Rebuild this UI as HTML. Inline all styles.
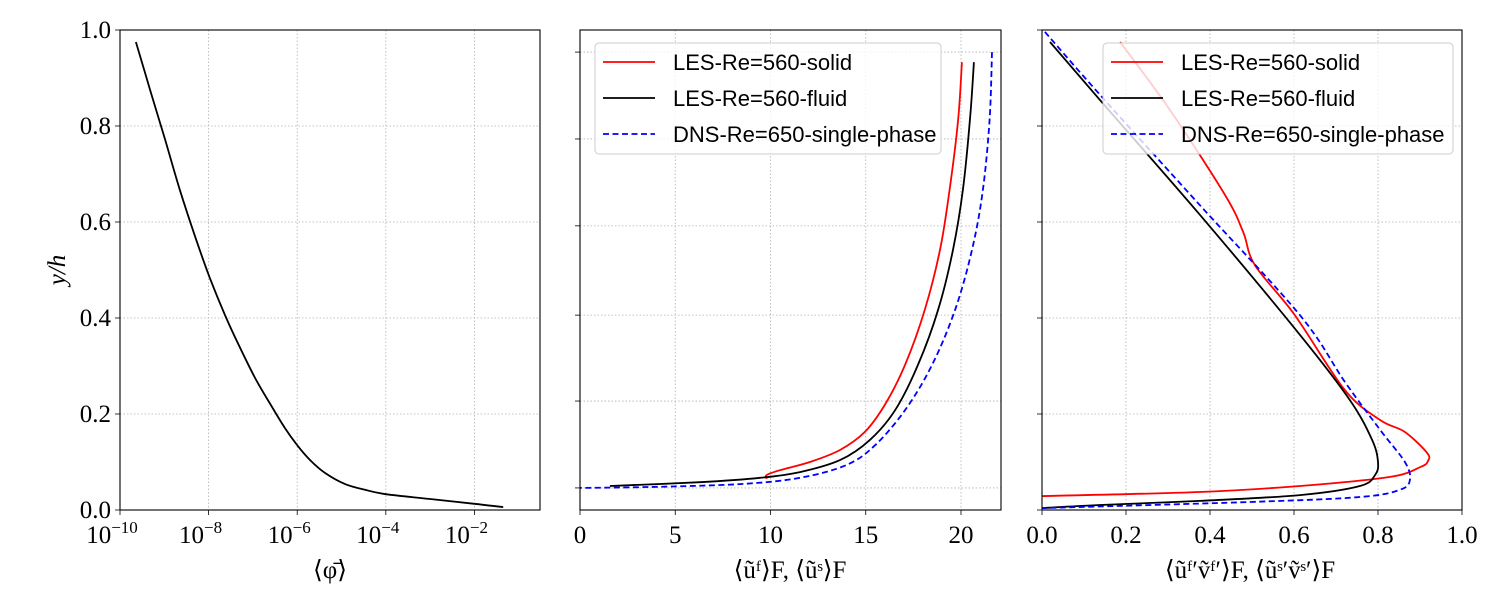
<!DOCTYPE html>
<html><head><meta charset="utf-8"><style>
body{margin:0;background:#fff}
svg{display:block}
text{font-family:"Liberation Serif",serif;fill:#000}
.leg{font-family:"Liberation Sans",sans-serif;font-size:22px}
</style></head><body>
<svg id="c" width="1500" height="600" xmlns="http://www.w3.org/2000/svg"></svg>
<script>
// Panel 1 data: phi (log10 exponent) vs y/h
const phiExp=[-9.64,-9.32,-8.98,-8.65,-8.31,-7.97,-7.63,-7.29,-6.95,-6.61,-6.28,-6.0,-5.71,-5.37,-4.92,-4.47,-4.0,-3.0,-2.0,-1.35];
const phiY=[0.975,0.875,0.771,0.667,0.571,0.483,0.406,0.338,0.275,0.221,0.171,0.135,0.104,0.077,0.054,0.042,0.033,0.023,0.013,0.006];
// Panel 2 data: mean velocity vs y/h
const uSolidX=[20.05,19.85,19.4,18.9,18.1,17.06,16.0,14.96,13.65,12.07,10.5,9.8,9.8];
const uSolidY=[0.933,0.8125,0.667,0.542,0.417,0.302,0.219,0.163,0.125,0.1,0.083,0.073,0.065];
const uFluidX=[20.68,20.47,20.1,19.58,18.8,17.74,16.54,15.22,13.65,11.55,9.45,6.3,1.57];
const uFluidY=[0.933,0.8125,0.667,0.542,0.417,0.302,0.208,0.146,0.104,0.079,0.067,0.058,0.05];
const uDnsX=[21.63,21.5,21.15,20.58,19.69,18.48,17.06,15.49,14.0,11.55,8.4,3.67,0];
const uDnsY=[0.954,0.8125,0.667,0.542,0.417,0.302,0.208,0.135,0.094,0.067,0.054,0.048,0.046];
// Panel 3 data: stress vs y/h
const sSolidX=[0.186,0.305,0.436,0.479,0.507,0.602,0.721,0.805,0.864,0.917,0.919,0.902,0.829,0.614,0.376,0];
const sSolidY=[0.975,0.833,0.656,0.579,0.51,0.406,0.25,0.1875,0.1625,0.119,0.102,0.09,0.069,0.05,0.0375,0.029];
const sFluidX=[0.019,0.138,0.376,0.614,0.733,0.786,0.8,0.793,0.757,0.614,0.376,0.138,0];
const sFluidY=[0.975,0.854,0.615,0.365,0.229,0.146,0.1,0.073,0.05,0.031,0.019,0.0104,0.004];
const sDnsX=[0.007,0.138,0.376,0.614,0.721,0.805,0.864,0.876,0.852,0.757,0.495,0];
const sDnsY=[0.996,0.865,0.635,0.406,0.267,0.167,0.1,0.0625,0.042,0.027,0.0167,0.004];
const yTicks=[0,0.2,0.4,0.6,0.8,1.0];
const yTicks2=[0.046,0.227,0.406,0.592,0.773,0.954];
const x1Ticks=[-10,-8,-6,-4,-2];
const x2Ticks=[0,5,10,15,20];
const x3Ticks=[0,0.2,0.4,0.6,0.8,1.0];

const NS="http://www.w3.org/2000/svg",svg=document.getElementById('c');
function el(t,a,p){const e=document.createElementNS(NS,t);for(const k in a)e.setAttribute(k,a[k]);(p||svg).appendChild(e);return e;}
const T=30,B=510;
const Y=v=>B-v*(B-T);
const panels=[{l:120,r:540,x0:-10,x1:-0.52},{l:580,r:1001,x0:0,x1:22.1},{l:1042,r:1462,x0:0,x1:1}];
const X=(p,v)=>p.l+(v-p.x0)/(p.x1-p.x0)*(p.r-p.l);

function grid(p,xt,yt,g){
  xt.forEach(v=>{const x=X(p,v);
    const gl=el('line',{x1:x,x2:x,y1:T,y2:B,stroke:'#b0b0b0','stroke-width':0.8,'stroke-dasharray':'1.5,2'},g);
    
    el('line',{x1:x,x2:x,y1:B,y2:B+5,stroke:'#000','stroke-width':0.8},g);});
  yt.forEach(v=>{const y=Y(v);
    const gl=el('line',{x1:p.l,x2:p.r,y1:y,y2:y,stroke:'#b0b0b0','stroke-width':0.8,'stroke-dasharray':'1.5,2'},g);
    
    el('line',{x1:p.l-5,x2:p.l,y1:y,y2:y,stroke:'#000','stroke-width':0.8},g);});
}
function smoothPath(pts){
  let d='M'+pts[0][0].toFixed(1)+','+pts[0][1].toFixed(1);
  for(let i=0;i<pts.length-1;i++){
    const p0=pts[Math.max(0,i-1)],p1=pts[i],p2=pts[i+1],p3=pts[Math.min(pts.length-1,i+2)];
    const k=1/6;
    const c1=[p1[0]+(p2[0]-p0[0])*k,p1[1]+(p2[1]-p0[1])*k];
    const c2=[p2[0]-(p3[0]-p1[0])*k,p2[1]-(p3[1]-p1[1])*k];
    d+='C'+c1[0].toFixed(1)+','+c1[1].toFixed(1)+' '+c2[0].toFixed(1)+','+c2[1].toFixed(1)+' '+p2[0].toFixed(1)+','+p2[1].toFixed(1);
  }
  return d;
}
function line(p,xs,ys,col,dash,name,g){
  const pts=xs.map((v,i)=>[X(p,v),Y(ys[i])]);
  const e=el('path',{d:smoothPath(pts),fill:'none',stroke:col,'stroke-width':1.8,'stroke-dasharray':dash||'none','stroke-linejoin':'round'},g);
  
}
function frame(p,g){const f=el('rect',{x:p.l,y:T,width:p.r-p.l,height:B-T,fill:'none',stroke:'#000','stroke-width':1.1},g);
  }
function txt(s,x,y,size,anchor,g,name){const t=el('text',{x:x,y:y,'font-size':size,'text-anchor':anchor||'middle'},g);t.textContent=s;
  return t;}

// panel 1
const g1=el('g',{});
const p1=panels[0];grid(p1,x1Ticks,yTicks,g1);
line(p1,phiExp,phiY,'#000','', 'phi-line',g1);
frame(p1,g1);
yTicks.forEach(v=>txt(v.toFixed(1),p1.l-9,Y(v)+8,25,'end',g1,'y-tick-label'));
x1Ticks.forEach(v=>{const t=txt('10',X(p1,v)-8,B+33,25,'middle',g1,'x-tick-label');
  const s=el('tspan',{dy:-10,'font-size':17},t);s.textContent='\u2212'+(-v);});
txt('\u27E8\u03C6\u0304\u27E9',330,578,25,'middle',g1,'x-axis-title');
const yl=txt('y/h',0,0,25,'middle',g1,'y-axis-title');yl.setAttribute('transform','translate(65,270) rotate(-90)');yl.setAttribute('font-style','italic');

// panel 2
const g2=el('g',{});
const p2=panels[1];grid(p2,x2Ticks,yTicks2,g2);
line(p2,uSolidX,uSolidY,'#f00','','velocity-solid-line',g2);
line(p2,uFluidX,uFluidY,'#000','','velocity-fluid-line',g2);
line(p2,uDnsX,uDnsY,'#00f','6,3.5','velocity-dns-line',g2);
frame(p2,g2);
x2Ticks.forEach(v=>txt(String(v),X(p2,v),B+33,25,'middle',g2,'x-tick-label'));
txt('\u27E8\u0169\u1DA0\u27E9F, \u27E8\u0169\u02E2\u27E9F',790,578,25,'middle',g2,'x-axis-title');

// panel 3
const g3=el('g',{});
const p3=panels[2];grid(p3,x3Ticks,yTicks,g3);
line(p3,sSolidX,sSolidY,'#f00','','stress-solid-line',g3);
line(p3,sFluidX,sFluidY,'#000','','stress-fluid-line',g3);
line(p3,sDnsX,sDnsY,'#00f','6,3.5','stress-dns-line',g3);
frame(p3,g3);
x3Ticks.forEach(v=>txt(v.toFixed(1),X(p3,v),B+33,25,'middle',g3,'x-tick-label'));
txt('\u27E8\u0169\u1DA0\u2032\u1E7D\u1DA0\u2032\u27E9F, \u27E8\u0169\u02E2\u2032\u1E7D\u02E2\u2032\u27E9F',1250,578,25,'middle',g3,'x-axis-title');

// legends
function legend(x,y,w,g){
  const lg=el('g',{},g);
  el('rect',{x:x,y:y,width:w,height:111,rx:4,fill:'rgba(255,255,255,0.8)',stroke:'#ccc'},lg);
  [['#f00','','LES-Re=560-solid'],['#000','','LES-Re=560-fluid'],['#00f','6,3.5','DNS-Re=650-single-phase']].forEach((it,i)=>{
    const yy=y+19+i*36;
    el('line',{x1:x+8,x2:x+60,y1:yy,y2:yy,stroke:it[0],'stroke-width':1.8,'stroke-dasharray':it[1]||'none'},lg);
    const t=el('text',{x:x+78,y:yy+8,class:'leg'},lg);t.textContent=it[2];
    
  });
}
legend(595,43,346,g2);
legend(1103,43,350,g3);
</script>
</body></html>
